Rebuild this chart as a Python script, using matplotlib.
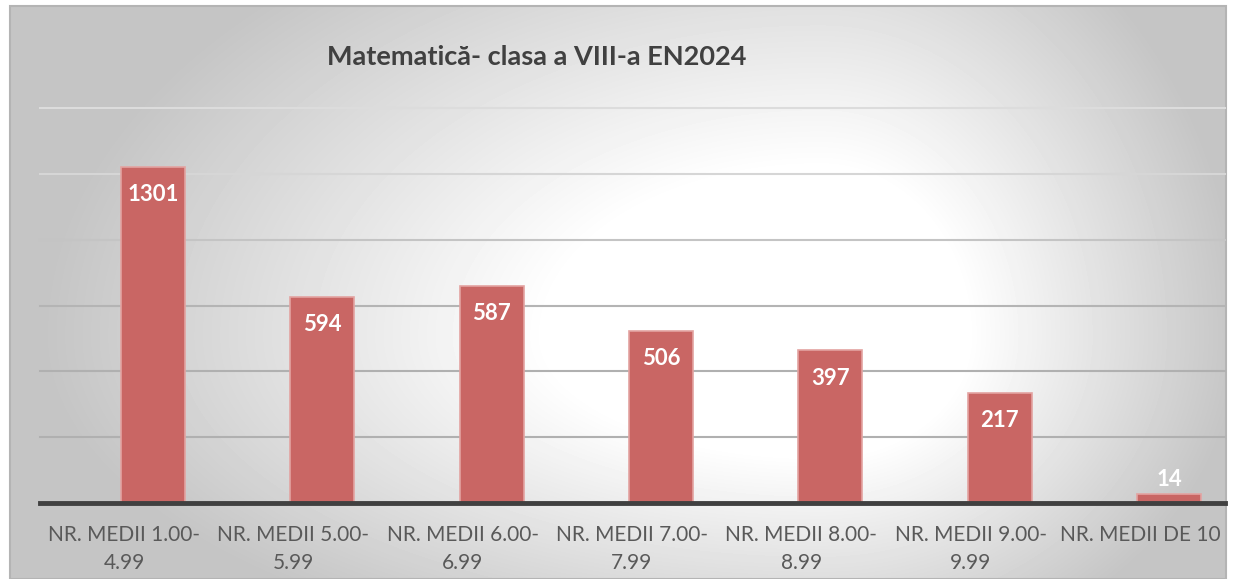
import numpy as np
import matplotlib
matplotlib.use('Agg')
import matplotlib.pyplot as plt
from matplotlib.patches import Rectangle
from matplotlib.transforms import ScaledTranslation

# categories and values (labels as printed on the chart)
categories = ['NR. MEDII 1.00-\n4.99', 'NR. MEDII 5.00-\n5.99', 'NR. MEDII 6.00-\n6.99',
              'NR. MEDII 7.00-\n7.99', 'NR. MEDII 8.00-\n8.99', 'NR. MEDII 9.00-\n9.99',
              'NR. MEDII DE 10']
value_labels = [1301, 594, 587, 506, 397, 217, 14]
# bar heights as drawn in the picture (they don't follow the printed labels)
bar_heights = [1022, 626, 660, 522, 464, 334, 28]
title = 'Matematică- clasa a VIII-a EN2024'

plt.rcParams['font.family'] = ['Lato', 'DejaVu Sans']

W, H = 1236, 579
fig = plt.figure(figsize=(W / 100, H / 100), dpi=100)
fig.patch.set_facecolor('white')

# background panel with radial grey->white gradient
bg = fig.add_axes([10 / W, 0, 1216 / W, 1 - 6 / H])
bg.set_axis_off()
yy, xx = np.mgrid[0:573, 0:1216]
cx, cy = 810, 330
rx = np.where(xx < cx, 780, 420)
ry = np.where(yy < cy, 480, 340)
d = np.sqrt(((xx - cx) / rx) ** 2 + ((yy - cy) / ry) ** 2)
g = 1.0 - 0.23 * np.clip((d - 0.35) / 0.65, 0, 1)
bg.imshow(g, cmap='gray', vmin=0, vmax=1, aspect='auto', interpolation='bilinear')
bg.add_patch(Rectangle((0, 0), 1, 1, transform=bg.transAxes, fill=False,
                       edgecolor='#b4b4b4', linewidth=1.5, clip_on=False))

ax = fig.add_axes([40 / W, 1 - 503 / H, 1185 / W, 395 / H])
ax.set_facecolor('none')
x = np.arange(len(categories))
bars = ax.bar(x, bar_heights, width=0.378, color='#c96664', edgecolor='#e3a3a1',
              linewidth=1.2, zorder=3)

ax.set_xlim(-0.667, 6.331)
ax.set_ylim(0, 1200)
grid_vals = [200, 400, 600, 800, 1000, 1200]
grid_cols = ['#b0b0b0', '#b0b0b0', '#b4b4b4', '#c4c4c4', '#d6d6d6', '#dcdcdc']
for gv, gc in zip(grid_vals, grid_cols):
    ax.axhline(gv, color=gc, linewidth=1.5, zorder=1, clip_on=False)
ax.set_yticks([])
ax.tick_params(axis='x', bottom=False, pad=12)
ax.set_xticks(x)
ax.set_xticklabels(categories, fontsize=15, color='#595959', linespacing=1.5)
shift = ScaledTranslation(-0.29, 0, fig.dpi_scale_trans)
for lbl in ax.get_xticklabels():
    lbl.set_transform(lbl.get_transform() + shift)
for s in ['top', 'right', 'left']:
    ax.spines[s].set_visible(False)
ax.spines['bottom'].set_color('#404040')
ax.spines['bottom'].set_linewidth(3.5)
ax.spines['bottom'].set_zorder(4)

for b, lab in zip(bars, value_labels):
    h = b.get_height()
    off = -20 if h > 100 else 10
    ax.annotate(str(lab), (b.get_x() + b.get_width() / 2, h), xytext=(0, off),
                textcoords='offset points', ha='center', va='center',
                color='white', fontsize=16, fontweight='bold', zorder=5)

fig.text(537 / W, 1 - 57 / H, title, ha='center', va='center', fontsize=19.5,
         fontweight='bold', color='#404040')

fig.savefig('out.png', dpi=100)
